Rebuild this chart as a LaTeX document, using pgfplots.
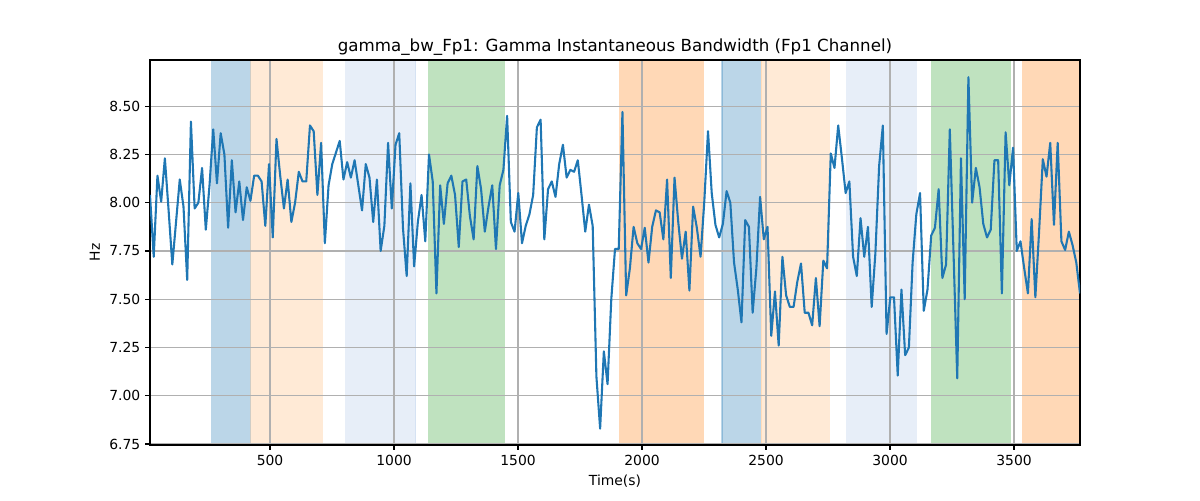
\documentclass[border=0pt]{standalone}
\usepackage{fontspec}
\setmainfont{DejaVu Sans}
\usepackage{pgfplots}
\pgfplotsset{compat=1.18}
\definecolor{tabblue}{HTML}{1F77B4}
\definecolor{tablblue}{HTML}{AEC7E8}
\definecolor{taborange}{HTML}{FF7F0E}
\definecolor{tablorange}{HTML}{FFBB78}
\definecolor{tabgreen}{HTML}{2CA02C}
\definecolor{gridgray}{HTML}{B0B0B0}
\pgfplotsset{
  band/.style={fill=#1, fill opacity=0.3, draw=#1, draw opacity=0.3, line width=0.8pt, forget plot, on layer=axis background},
}
\begin{document}
\begin{tikzpicture}
\begin{axis}[
  set layers,
  at={(0,0)}, anchor=south west,
  scale only axis, width=669.6pt, height=277.2pt,
  xmin=16, xmax=3766, ymin=6.745, ymax=8.739,
  xtick={500,1000,1500,2000,2500,3000,3500},
  ytick={6.75,7.00,7.25,7.50,7.75,8.00,8.25,8.50},
  /pgf/number format/assume math mode=true,
  xticklabel style={/pgf/number format/1000 sep={}, font=\fontsize{10}{12}\selectfont},
  yticklabel style={/pgf/number format/fixed, /pgf/number format/fixed zerofill, /pgf/number format/precision=2, font=\fontsize{10}{12}\selectfont},
  tick pos=left, tick align=outside, major tick length=3.5pt,
  every tick/.style={black, line width=0.8pt},
  axis line style={black, line width=0.8pt},
  grid=major, grid style={gridgray, line width=0.8pt},
  title={gamma\_bw\_Fp1: Gamma Instantaneous Bandwidth (Fp1 Channel)},
  title style={font=\fontsize{12}{14}\selectfont, at={(0.5,1)}, anchor=base, yshift=0pt},
  xlabel={Time(s)}, ylabel={Hz},
  label style={font=\fontsize{10}{12}\selectfont},
]
\addplot[band=tabblue] coordinates {(264.8,6.745) (264.8,8.739) (420.8,8.739) (420.8,6.745)} --cycle;
\addplot[band=tablorange] coordinates {(421.5,6.745) (421.5,8.739) (711.5,8.739) (711.5,6.745)} --cycle;
\addplot[band=tablblue] coordinates {(805.5,6.745) (805.5,8.739) (1087,8.739) (1087,6.745)} --cycle;
\addplot[band=tabgreen] coordinates {(1140,6.745) (1140,8.739) (1445,8.739) (1445,6.745)} --cycle;
\addplot[band=taborange] coordinates {(1910,6.745) (1910,8.739) (2247,8.739) (2247,6.745)} --cycle;
\addplot[band=tabblue] coordinates {(2322.6,6.745) (2322.6,8.739) (2476,8.739) (2476,6.745)} --cycle;
\addplot[band=tablorange] coordinates {(2480,6.745) (2480,8.739) (2755,8.739) (2755,6.745)} --cycle;
\addplot[band=tablblue] coordinates {(2825,6.745) (2825,8.739) (3106,8.739) (3106,6.745)} --cycle;
\addplot[band=tabgreen] coordinates {(3168,6.745) (3168,8.739) (3485,8.739) (3485,6.745)} --cycle;
\addplot[band=taborange] coordinates {(3535,6.745) (3535,8.739) (3766,8.739) (3766,6.745)} --cycle;
\addplot[tabblue, line width=1.5pt, line join=round, mark=none] coordinates {
(16,8.04) (31,7.72) (46,8.14) (61,8.005) (76,8.23) (91,7.96) (106,7.68) (121,7.90) (136,8.12) (151,7.98)
(166,7.60) (181,8.42) (196,7.97) (211,8.00) (226,8.18) (241,7.86) (256,8.09) (271,8.38) (286,8.10) (301,8.36)
(316,8.25) (331,7.87) (346,8.22) (361,7.95) (376,8.11) (391,7.91) (406,8.08) (421,8.01) (436,8.14) (451,8.14)
(466,8.11) (481,7.88) (496,8.20) (511,7.82) (526,8.33) (541,8.14) (556,7.97) (571,8.12) (586,7.90) (601,8.00)
(616,8.16) (631,8.11) (646,8.11) (661,8.40) (676,8.37) (691,8.04) (706,8.31) (721,7.79) (736,8.09) (751,8.20)
(766,8.26) (781,8.32) (796,8.12) (811,8.21) (826,8.13) (841,8.22) (856,8.09) (871,7.96) (886,8.20) (901,8.13)
(916,7.90) (931,8.12) (946,7.75) (961,7.88) (976,8.31) (991,7.97) (1006,8.30) (1021,8.36) (1036,7.87) (1051,7.62)
(1066,8.10) (1081,7.67) (1096,7.90) (1111,8.04) (1126,7.80) (1141,8.25) (1156,8.11) (1171,7.53) (1186,8.09) (1201,7.89)
(1216,8.10) (1231,8.14) (1246,8.04) (1261,7.77) (1276,8.11) (1291,8.12) (1306,7.93) (1321,7.81) (1336,8.19) (1351,8.07)
(1366,7.85) (1381,7.98) (1396,8.09) (1411,7.76) (1426,8.09) (1441,8.17) (1456,8.45) (1471,7.90) (1486,7.85) (1501,8.05)
(1516,7.79) (1531,7.88) (1546,7.94) (1561,8.04) (1576,8.39) (1591,8.43) (1606,7.81) (1621,8.07) (1636,8.11) (1651,8.03)
(1666,8.20) (1681,8.30) (1696,8.13) (1711,8.17) (1726,8.16) (1741,8.22) (1756,8.04) (1771,7.85) (1786,7.99) (1801,7.88)
(1816,7.10) (1831,6.83) (1846,7.23) (1861,7.06) (1876,7.50) (1891,7.76) (1906,7.76) (1921,8.47) (1936,7.52) (1951,7.66)
(1966,7.875) (1981,7.79) (1996,7.76) (2011,7.87) (2026,7.69) (2041,7.875) (2056,7.96) (2071,7.95) (2086,7.81) (2101,8.12)
(2116,7.61) (2131,8.13) (2146,7.90) (2161,7.71) (2176,7.85) (2191,7.545) (2206,7.98) (2221,7.87) (2236,7.72) (2251,8.005)
(2266,8.37) (2281,8.05) (2296,7.885) (2311,7.82) (2326,7.89) (2341,8.06) (2356,8.00) (2371,7.69) (2386,7.55) (2401,7.38)
(2416,7.91) (2431,7.875) (2446,7.43) (2461,7.66) (2476,8.03) (2491,7.81) (2506,7.875) (2521,7.31) (2536,7.54) (2551,7.26)
(2566,7.72) (2581,7.52) (2596,7.46) (2611,7.46) (2626,7.59) (2641,7.685) (2656,7.43) (2671,7.43) (2686,7.365) (2701,7.61)
(2716,7.36) (2731,7.70) (2746,7.66) (2761,8.255) (2776,8.18) (2791,8.40) (2806,8.23) (2821,8.05) (2836,8.11) (2851,7.72)
(2866,7.62) (2881,7.92) (2896,7.72) (2911,7.875) (2926,7.46) (2941,7.74) (2956,8.19) (2971,8.40) (2986,7.32) (3001,7.51)
(3016,7.51) (3031,7.105) (3046,7.55) (3061,7.21) (3076,7.25) (3091,7.69) (3106,7.94) (3121,8.05) (3136,7.44) (3151,7.55)
(3166,7.83) (3181,7.87) (3196,8.07) (3211,7.61) (3226,7.68) (3241,8.38) (3256,7.74) (3271,7.09) (3286,8.23) (3301,7.50)
(3316,8.65) (3331,8.00) (3346,8.18) (3361,8.08) (3376,7.89) (3391,7.82) (3406,7.86) (3421,8.22) (3436,8.22) (3451,7.53)
(3466,8.365) (3481,8.09) (3496,8.285) (3511,7.75) (3526,7.80) (3541,7.66) (3556,7.53) (3571,7.915) (3586,7.51) (3601,7.85)
(3616,8.225) (3631,8.135) (3646,8.31) (3661,7.885) (3676,8.31) (3691,7.80) (3706,7.755) (3721,7.85) (3736,7.78) (3751,7.69)
(3766,7.53)
};
\end{axis}
\path (-108pt,-39.6pt) rectangle (756pt,320.4pt);
\end{tikzpicture}
\end{document}
